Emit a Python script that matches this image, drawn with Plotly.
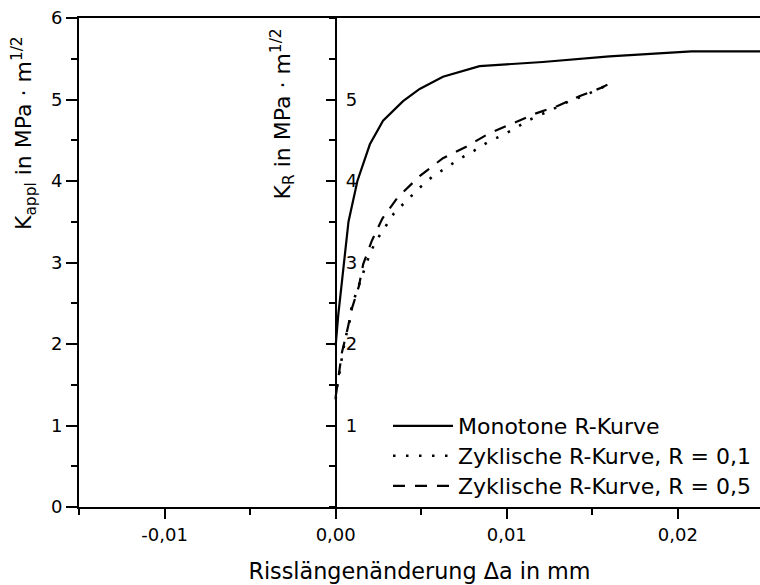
import plotly.graph_objects as go

# ---- data ----
mono_x = [0, 0.00005, 0.00015, 0.00028, 0.00047, 0.00075, 0.00127, 0.002, 0.00277,
          0.00394, 0.00491, 0.00627, 0.00841, 0.0121, 0.016, 0.0208, 0.025]
mono_k = [1.98, 2.15, 2.35, 2.6, 3.0, 3.5, 4.0, 4.45, 4.74,
          4.98, 5.13, 5.28, 5.41, 5.46, 5.53, 5.59, 5.59]

cyc01_x = [0, 0.00006, 0.00025, 0.00044, 0.00064, 0.00083, 0.00093, 0.00117, 0.00142,
           0.00171, 0.002, 0.00235, 0.00287, 0.0034, 0.0041, 0.00487, 0.00563, 0.00647,
           0.00724, 0.00808, 0.00884, 0.00962, 0.01045, 0.01122, 0.0121, 0.01288,
           0.01365, 0.01443, 0.0154, 0.016]
cyc01_k = [1.32, 1.44, 1.68, 1.93, 2.13, 2.29, 2.46, 2.60, 2.76,
           2.94, 3.11, 3.26, 3.43, 3.60, 3.75, 3.91, 4.05, 4.17,
           4.27, 4.37, 4.47, 4.55, 4.64, 4.74, 4.82, 4.90,
           4.98, 5.04, 5.13, 5.19]

cyc05_x = [0, 0.00019, 0.00037, 0.00069, 0.00097, 0.00136, 0.00161, 0.0021, 0.00273,
           0.00363, 0.00491, 0.00627, 0.00763, 0.00893, 0.01026, 0.01171, 0.01297,
           0.01424, 0.0156, 0.0162]
cyc05_k = [1.35, 1.62, 1.90, 2.18, 2.45, 2.71, 2.98, 3.26, 3.54,
           3.80, 4.06, 4.28, 4.42, 4.58, 4.70, 4.83, 4.92,
           5.04, 5.15, 5.22]

series_names = ["Monotone R-Kurve", "Zyklische R-Kurve, R = 0,1", "Zyklische R-Kurve, R = 0,5"]

x_tickvals = [-0.01, 0.0, 0.01, 0.02]
x_ticktext = ["-0,01", "0,00", "0,01", "0,02"]
y_tickvals = [0, 1, 2, 3, 4, 5, 6]
kr_tickvals = [1, 2, 3, 4, 5]
kr_ticktext = ["1", "2", "3", "4", "5"]

x_title = "Risslängenänderung Δa in mm"
y_title = "K<sub>appl</sub> in MPa · m<sup>1/2</sup>"
kr_title = "K<sub>R</sub> in MPa · m<sup>1/2</sup>"

FONT = "DejaVu Sans"
X_MIN, X_MAX = -0.015, 0.0248
PLOT_TOP, PLOT_BOTTOM = 18, 507   # pixel rows of the plot area
PLOT_LEFT, PLOT_W = 79, 681


def py(pixel_row):
    return (PLOT_BOTTOM - pixel_row) / (PLOT_BOTTOM - PLOT_TOP)


def px(pixel_col):
    return (pixel_col - PLOT_LEFT) / PLOT_W


fig = go.Figure()
fig.add_trace(go.Scatter(x=mono_x, y=mono_k, mode="lines", name=series_names[0],
                         legend="legend",
                         line=dict(color="black", width=2.2)))
fig.add_trace(go.Scatter(x=cyc01_x, y=cyc01_k, mode="lines", name=series_names[1],
                         legend="legend2",
                         line=dict(color="black", width=2.6, dash="2.5px,10.5px")))
fig.add_trace(go.Scatter(x=cyc05_x, y=cyc05_k, mode="lines", name=series_names[2],
                         legend="legend3",
                         line=dict(color="black", width=2.2, dash="12px,10px")))
# invisible helpers so that the K_R axis (ticks / labels) is drawn
for ax in ("y2", "y3"):
    fig.add_trace(go.Scatter(x=mono_x, y=mono_k, mode="lines", yaxis=ax, showlegend=False,
                             hoverinfo="skip", line=dict(color="rgba(0,0,0,0)", width=0)))

kr_pos = (0 - X_MIN) / (X_MAX - X_MIN)

legend_common = dict(x=px(388), xanchor="left", yanchor="middle",
                     bgcolor="rgba(0,0,0,0)", borderwidth=0,
                     font=dict(family=FONT, size=22, color="black"),
                     itemwidth=60, tracegroupgap=0)

fig.update_layout(
    width=760, height=585,
    margin=dict(l=PLOT_LEFT, r=0, t=PLOT_TOP, b=585 - PLOT_BOTTOM, pad=0, autoexpand=False),
    paper_bgcolor="white", plot_bgcolor="white",
    font=dict(family=FONT, color="black", size=18),
    showlegend=True,
    legend=dict(y=py(426), **legend_common),
    legend2=dict(y=py(456), **legend_common),
    legend3=dict(y=py(486), **legend_common),
    xaxis=dict(range=[X_MIN, X_MAX], showgrid=False, zeroline=False,
               showline=True, linecolor="black", linewidth=2, mirror=True,
               ticks="outside", ticklen=10, tickwidth=2, tickcolor="black",
               tickvals=x_tickvals, ticktext=x_ticktext,
               tickfont=dict(family=FONT, size=18, color="black"),
               minor=dict(dtick=0.005, tick0=0, ticks="outside", ticklen=6,
                          tickwidth=2, tickcolor="black"),
               title=dict(text=x_title, font=dict(family=FONT, size=22.3), standoff=20)),
    yaxis=dict(range=[0, 6], showgrid=False, zeroline=False,
               showline=True, linecolor="black", linewidth=2,
               ticks="outside", ticklen=11, tickwidth=2, tickcolor="black",
               tickvals=y_tickvals, tickfont=dict(family=FONT, size=18, color="black"),
               minor=dict(dtick=0.5, tick0=0, ticks="outside", ticklen=6,
                          tickwidth=2, tickcolor="black")),
    # K_R axis line + ticks (pointing left)
    yaxis2=dict(range=[0, 6], overlaying="y", anchor="free", position=kr_pos, side="left",
                showgrid=False, zeroline=False,
                showline=True, linecolor="black", linewidth=2,
                ticks="outside", ticklen=9, tickwidth=2, tickcolor="black",
                tickvals=kr_tickvals, showticklabels=False,
                minor=dict(dtick=0.5, tick0=0, ticks="outside", ticklen=6,
                           tickwidth=2, tickcolor="black")),
    # K_R tick labels (to the right of the line)
    yaxis3=dict(range=[0, 6], overlaying="y", anchor="free", position=kr_pos, side="right",
                showgrid=False, zeroline=False, showline=False, ticks="",
                tickvals=kr_tickvals, ticktext=kr_ticktext, ticklabelstandoff=9,
                tickfont=dict(family=FONT, size=18, color="black")),
)

# y-axis titles as rotated annotations
fig.add_annotation(text=y_title, xref="paper", yref="paper",
                   x=px(24), y=py(133),
                   xanchor="center", yanchor="middle", textangle=-90, showarrow=False,
                   font=dict(family=FONT, size=22, color="black"))
fig.add_annotation(text=kr_title, xref="paper", yref="paper",
                   x=px(282), y=py(114.5),
                   xanchor="center", yanchor="middle", textangle=-90, showarrow=False,
                   font=dict(family=FONT, size=22, color="black"))

fig.write_html("out.html")
